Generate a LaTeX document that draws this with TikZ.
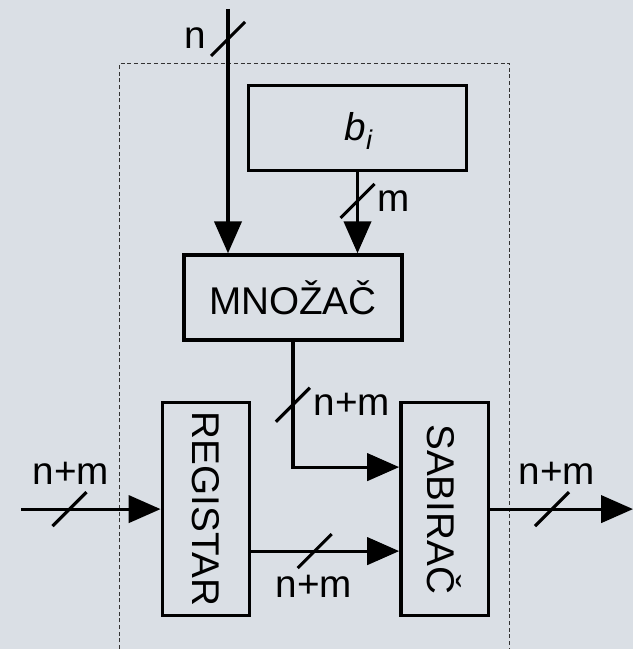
\documentclass[tikz,border=0pt]{standalone}
\usepackage{fontspec}
\setmainfont{Liberation Sans}
\usetikzlibrary{arrows.meta,calc}
\definecolor{bgc}{RGB}{218,223,229}
\begin{document}
\begin{tikzpicture}[x=0.75pt,y=-0.75pt,
  every node/.style={font=\fontsize{29}{35}\selectfont},
  blk/.style={draw,line width=2.6pt,inner sep=0pt},
  arr/.style={line width=2.4pt,-{Triangle[length=24pt,width=20.5pt]}},
  sl/.style={line width=2.3pt},
  lbl/.style={inner sep=0pt}]
\fill[bgc] (0,0) rectangle (633,649);
\useasboundingbox (0,0) rectangle (633,649);
% dashed frame
\draw[line width=0.75pt,dash pattern=on 3pt off 2pt,black!80] (119.5,649) -- (119.5,63.4) -- (509.5,63.4) -- (509.5,649);
% blocks
\node[blk,minimum width=163.2pt,minimum height=63.6pt] (bi) at (357.5,128) {};
\node[lbl] at (359,131) {\textit{b}\textsubscript{\textit{i}}};
\node[blk,minimum width=163.3pt,minimum height=63.75pt] (mno) at (292.9,297.5) {MNOŽAČ};
\node[blk,minimum width=65.4pt,minimum height=159.9pt] (reg) at (205.9,509.1) {};
\node[rotate=-90,lbl] at (reg.center) {REGISTAR};
\node[blk,minimum width=65.7pt,minimum height=159.9pt] (sab) at (444.7,509.1) {};
\node[rotate=-90,lbl] at (sab.center) {SABIRAČ};
% free ends
\coordinate (nin) at (228,9);
\coordinate (inL) at (21,509.1);
\coordinate (outR) at (633,509.1);
\coordinate (s1) at (228,39);
\coordinate (s2) at (357.5,201);
\coordinate (s3) at (292.9,404.7);
\coordinate (s4) at (69.5,509.1);
\coordinate (s5) at (314.7,551.1);
\coordinate (s6) at (552,509.1);
% connectors
\draw[arr] (nin) -- (nin |- mno.north);
\draw[arr] (bi.south) -- (bi.south |- mno.north);
\draw[arr] (mno.south) |- ($(sab.west)+(0,-42)$);
\draw[arr] ($(reg.east)+(0,42)$) -- ($(sab.west)+(0,42)$);
\draw[arr] (inL) -- (reg.west);
\draw[arr] (sab.east) -- (outR);
% bus slashes
\foreach \p in {s1,s2,s3,s4,s5,s6}
  \draw[sl] ($(\p)+(-17,17)$) -- ($(\p)+(17,-17)$);
% labels
\node[lbl] at (195,38) {n};
\node[lbl] at (394,201) {m};
\node[lbl] at (352,404) {n+m};
\node[lbl] at (71,473) {n+m};
\node[lbl] at (314,586) {n+m};
\node[lbl] at (557,473) {n+m};
\end{tikzpicture}
\end{document}
